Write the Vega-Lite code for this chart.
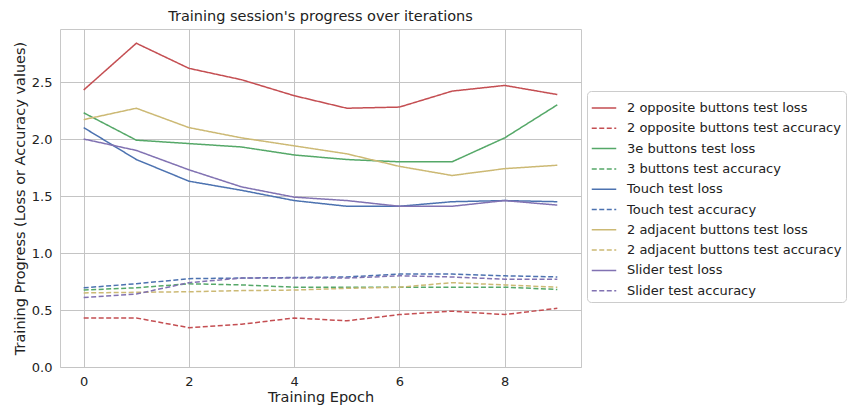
{
  "$schema": "https://vega.github.io/schema/vega-lite/v6.json",
  "width": 521,
  "height": 338,
  "autosize": {"type": "none"},
  "padding": {"left": 60, "top": 29, "right": 267, "bottom": 39},
  "background": "white",
  "title": {"text": "Training session's progress over iterations", "font": "DejaVu Sans", "fontSize": 14.5, "fontWeight": "normal", "color": "#222", "offset": 5, "anchor": "middle"},
  "config": {
    "view": {"stroke": "#c8c8c8", "strokeWidth": 1},
    "axis": {"gridColor": "#c4c4c4", "gridWidth": 1, "domain": false, "ticks": false, "labelFont": "DejaVu Sans", "labelFontSize": 13, "labelColor": "#222", "titleFont": "DejaVu Sans", "titleFontSize": 14.5, "titleFontWeight": "normal", "titleColor": "#222"},
    "legend": {"orient": "none", "legendX": 527, "legendY": 62, "strokeColor": "#cccccc", "cornerRadius": 4, "padding": 4, "fillColor": "white", "labelFont": "DejaVu Sans", "labelFontSize": 13, "labelColor": "#222", "labelLimit": 400, "labelOffset": 10, "symbolSize": 600, "symbolStrokeWidth": 1.5, "symbolType": "stroke", "rowPadding": 0.3, "title": null}
  },
  "data": {"values": [
    {"epoch": 0, "series": "2 opposite buttons test loss", "value": 2.43},
    {"epoch": 1, "series": "2 opposite buttons test loss", "value": 2.84},
    {"epoch": 2, "series": "2 opposite buttons test loss", "value": 2.62},
    {"epoch": 3, "series": "2 opposite buttons test loss", "value": 2.52},
    {"epoch": 4, "series": "2 opposite buttons test loss", "value": 2.38},
    {"epoch": 5, "series": "2 opposite buttons test loss", "value": 2.27},
    {"epoch": 6, "series": "2 opposite buttons test loss", "value": 2.28},
    {"epoch": 7, "series": "2 opposite buttons test loss", "value": 2.42},
    {"epoch": 8, "series": "2 opposite buttons test loss", "value": 2.47},
    {"epoch": 9, "series": "2 opposite buttons test loss", "value": 2.39},
    {"epoch": 0, "series": "2 opposite buttons test accuracy", "value": 0.43},
    {"epoch": 1, "series": "2 opposite buttons test accuracy", "value": 0.43},
    {"epoch": 2, "series": "2 opposite buttons test accuracy", "value": 0.345},
    {"epoch": 3, "series": "2 opposite buttons test accuracy", "value": 0.375},
    {"epoch": 4, "series": "2 opposite buttons test accuracy", "value": 0.43},
    {"epoch": 5, "series": "2 opposite buttons test accuracy", "value": 0.405},
    {"epoch": 6, "series": "2 opposite buttons test accuracy", "value": 0.46},
    {"epoch": 7, "series": "2 opposite buttons test accuracy", "value": 0.49},
    {"epoch": 8, "series": "2 opposite buttons test accuracy", "value": 0.46},
    {"epoch": 9, "series": "2 opposite buttons test accuracy", "value": 0.515},
    {"epoch": 0, "series": "3e buttons test loss", "value": 2.23},
    {"epoch": 1, "series": "3e buttons test loss", "value": 1.99},
    {"epoch": 2, "series": "3e buttons test loss", "value": 1.96},
    {"epoch": 3, "series": "3e buttons test loss", "value": 1.93},
    {"epoch": 4, "series": "3e buttons test loss", "value": 1.86},
    {"epoch": 5, "series": "3e buttons test loss", "value": 1.82},
    {"epoch": 6, "series": "3e buttons test loss", "value": 1.80},
    {"epoch": 7, "series": "3e buttons test loss", "value": 1.80},
    {"epoch": 8, "series": "3e buttons test loss", "value": 2.01},
    {"epoch": 9, "series": "3e buttons test loss", "value": 2.30},
    {"epoch": 0, "series": "3 buttons test accuracy", "value": 0.675},
    {"epoch": 1, "series": "3 buttons test accuracy", "value": 0.695},
    {"epoch": 2, "series": "3 buttons test accuracy", "value": 0.73},
    {"epoch": 3, "series": "3 buttons test accuracy", "value": 0.72},
    {"epoch": 4, "series": "3 buttons test accuracy", "value": 0.70},
    {"epoch": 5, "series": "3 buttons test accuracy", "value": 0.70},
    {"epoch": 6, "series": "3 buttons test accuracy", "value": 0.70},
    {"epoch": 7, "series": "3 buttons test accuracy", "value": 0.70},
    {"epoch": 8, "series": "3 buttons test accuracy", "value": 0.70},
    {"epoch": 9, "series": "3 buttons test accuracy", "value": 0.68},
    {"epoch": 0, "series": "Touch test loss", "value": 2.10},
    {"epoch": 1, "series": "Touch test loss", "value": 1.82},
    {"epoch": 2, "series": "Touch test loss", "value": 1.63},
    {"epoch": 3, "series": "Touch test loss", "value": 1.55},
    {"epoch": 4, "series": "Touch test loss", "value": 1.46},
    {"epoch": 5, "series": "Touch test loss", "value": 1.41},
    {"epoch": 6, "series": "Touch test loss", "value": 1.41},
    {"epoch": 7, "series": "Touch test loss", "value": 1.45},
    {"epoch": 8, "series": "Touch test loss", "value": 1.46},
    {"epoch": 9, "series": "Touch test loss", "value": 1.45},
    {"epoch": 0, "series": "Touch test accuracy", "value": 0.695},
    {"epoch": 1, "series": "Touch test accuracy", "value": 0.73},
    {"epoch": 2, "series": "Touch test accuracy", "value": 0.775},
    {"epoch": 3, "series": "Touch test accuracy", "value": 0.78},
    {"epoch": 4, "series": "Touch test accuracy", "value": 0.785},
    {"epoch": 5, "series": "Touch test accuracy", "value": 0.79},
    {"epoch": 6, "series": "Touch test accuracy", "value": 0.815},
    {"epoch": 7, "series": "Touch test accuracy", "value": 0.815},
    {"epoch": 8, "series": "Touch test accuracy", "value": 0.80},
    {"epoch": 9, "series": "Touch test accuracy", "value": 0.79},
    {"epoch": 0, "series": "2 adjacent buttons test loss", "value": 2.17},
    {"epoch": 1, "series": "2 adjacent buttons test loss", "value": 2.27},
    {"epoch": 2, "series": "2 adjacent buttons test loss", "value": 2.10},
    {"epoch": 3, "series": "2 adjacent buttons test loss", "value": 2.01},
    {"epoch": 4, "series": "2 adjacent buttons test loss", "value": 1.94},
    {"epoch": 5, "series": "2 adjacent buttons test loss", "value": 1.87},
    {"epoch": 6, "series": "2 adjacent buttons test loss", "value": 1.76},
    {"epoch": 7, "series": "2 adjacent buttons test loss", "value": 1.68},
    {"epoch": 8, "series": "2 adjacent buttons test loss", "value": 1.74},
    {"epoch": 9, "series": "2 adjacent buttons test loss", "value": 1.77},
    {"epoch": 0, "series": "2 adjacent buttons test accuracy", "value": 0.65},
    {"epoch": 1, "series": "2 adjacent buttons test accuracy", "value": 0.655},
    {"epoch": 2, "series": "2 adjacent buttons test accuracy", "value": 0.66},
    {"epoch": 3, "series": "2 adjacent buttons test accuracy", "value": 0.67},
    {"epoch": 4, "series": "2 adjacent buttons test accuracy", "value": 0.675},
    {"epoch": 5, "series": "2 adjacent buttons test accuracy", "value": 0.69},
    {"epoch": 6, "series": "2 adjacent buttons test accuracy", "value": 0.70},
    {"epoch": 7, "series": "2 adjacent buttons test accuracy", "value": 0.74},
    {"epoch": 8, "series": "2 adjacent buttons test accuracy", "value": 0.72},
    {"epoch": 9, "series": "2 adjacent buttons test accuracy", "value": 0.70},
    {"epoch": 0, "series": "Slider test loss", "value": 2.00},
    {"epoch": 1, "series": "Slider test loss", "value": 1.90},
    {"epoch": 2, "series": "Slider test loss", "value": 1.73},
    {"epoch": 3, "series": "Slider test loss", "value": 1.58},
    {"epoch": 4, "series": "Slider test loss", "value": 1.49},
    {"epoch": 5, "series": "Slider test loss", "value": 1.46},
    {"epoch": 6, "series": "Slider test loss", "value": 1.41},
    {"epoch": 7, "series": "Slider test loss", "value": 1.41},
    {"epoch": 8, "series": "Slider test loss", "value": 1.46},
    {"epoch": 9, "series": "Slider test loss", "value": 1.42},
    {"epoch": 0, "series": "Slider test accuracy", "value": 0.61},
    {"epoch": 1, "series": "Slider test accuracy", "value": 0.64},
    {"epoch": 2, "series": "Slider test accuracy", "value": 0.74},
    {"epoch": 3, "series": "Slider test accuracy", "value": 0.78},
    {"epoch": 4, "series": "Slider test accuracy", "value": 0.78},
    {"epoch": 5, "series": "Slider test accuracy", "value": 0.78},
    {"epoch": 6, "series": "Slider test accuracy", "value": 0.80},
    {"epoch": 7, "series": "Slider test accuracy", "value": 0.79},
    {"epoch": 8, "series": "Slider test accuracy", "value": 0.77},
    {"epoch": 9, "series": "Slider test accuracy", "value": 0.77}
  ]},
  "mark": {"type": "line", "strokeWidth": 1.5, "clip": true},
  "encoding": {
    "x": {"field": "epoch", "type": "quantitative", "title": "Training Epoch", "scale": {"domain": [-0.45, 9.45], "nice": false, "zero": false}, "axis": {"values": [0, 2, 4, 6, 8], "labelPadding": 8, "titlePadding": 2}},
    "y": {"field": "value", "type": "quantitative", "title": "Training Progress (Loss or Accuracy values)", "scale": {"domain": [0, 2.965], "nice": false}, "axis": {"values": [0, 0.5, 1, 1.5, 2, 2.5], "format": ".1f", "labelPadding": 8, "titlePadding": 4}},
    "color": {"field": "series", "type": "nominal", "scale": {
      "domain": ["2 opposite buttons test loss", "2 opposite buttons test accuracy", "3e buttons test loss", "3 buttons test accuracy", "Touch test loss", "Touch test accuracy", "2 adjacent buttons test loss", "2 adjacent buttons test accuracy", "Slider test loss", "Slider test accuracy"],
      "range": ["#C44E52", "#C44E52", "#55A868", "#55A868", "#4C72B0", "#4C72B0", "#CCB974", "#CCB974", "#8172B2", "#8172B2"]}},
    "strokeDash": {"field": "series", "type": "nominal", "scale": {
      "domain": ["2 opposite buttons test loss", "2 opposite buttons test accuracy", "3e buttons test loss", "3 buttons test accuracy", "Touch test loss", "Touch test accuracy", "2 adjacent buttons test loss", "2 adjacent buttons test accuracy", "Slider test loss", "Slider test accuracy"],
      "range": [[1, 0], [5, 2.5], [1, 0], [5, 2.5], [1, 0], [5, 2.5], [1, 0], [5, 2.5], [1, 0], [5, 2.5]]}}
  }
}
